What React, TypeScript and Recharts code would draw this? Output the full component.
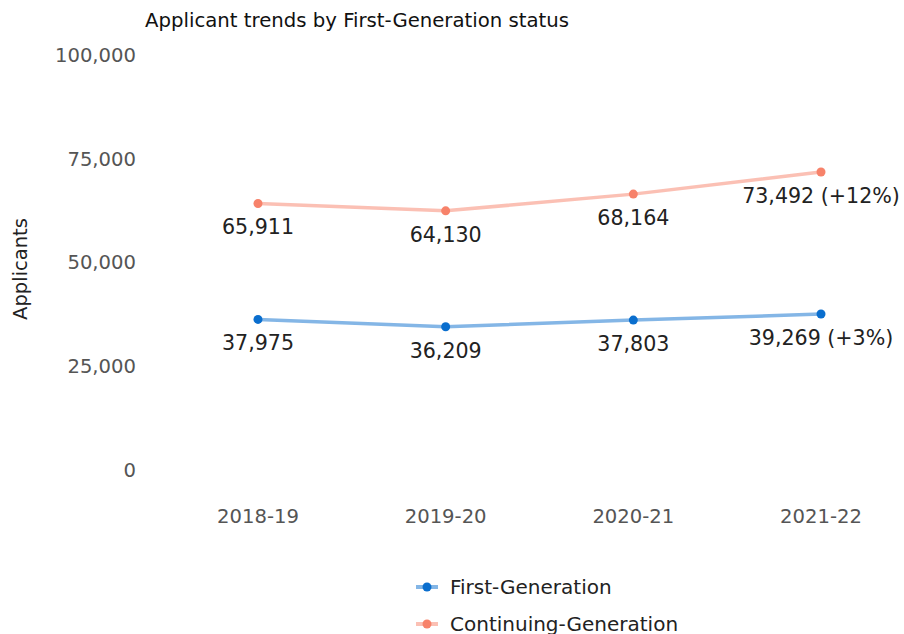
import React from "react";
import { LineChart, Line, XAxis, YAxis, Legend, LabelList } from "recharts";

const years = ["2018-19", "2019-20", "2020-21", "2021-22"];
const firstGen = [37975, 36209, 37803, 39269];
const continuingGen = [65911, 64130, 68164, 73492];
const firstGenChange = ["", "", "", "(+3%)"];
const continuingGenChange = ["", "", "", "(+12%)"];
const yTicks = [0, 25000, 50000, 75000, 100000];
const seriesNames = ["First-Generation", "Continuing-Generation"];

const FIRST_COLOR = "#0a6ece";
const CONT_COLOR = "#f7826a";
const FONT = "DejaVu Sans";

const data = years.map((y, i) => ({
  year: y,
  first: firstGen[i],
  continuing: continuingGen[i],
}));

const fmt = (v: number) => v.toLocaleString("en-US");

const YTick = (props: any) => {
  const { x, y, payload } = props;
  return (
    <text x={x} y={y - 7} dy="0.355em" textAnchor="end" fontSize={19.6} fill="#555" fontFamily={FONT}>
      {fmt(payload.value)}
    </text>
  );
};

const XTick = (props: any) => {
  const { x, y, payload } = props;
  return (
    <text x={x} y={y + 40} textAnchor="middle" fontSize={19.6} fill="#555" fontFamily={FONT}>
      {payload.value}
    </text>
  );
};

const makeLabel = (suffixes: string[]) => (props: any) => {
  const { x, y, value, index } = props;
  const s = suffixes[index];
  return (
    <text x={x} y={y + 31} textAnchor="middle" fontSize={20.6} fill="#222" fontFamily={FONT}>
      {fmt(Number(value)) + (s ? " " + s : "")}
    </text>
  );
};

const LegendContent = (props: any) => {
  const payload = [...(props.payload || [])].sort(
    (a: any, b: any) => seriesNames.indexOf(a.value) - seriesNames.indexOf(b.value)
  );
  return (
    <div style={{ fontFamily: FONT }}>
      {payload.map((p: any) => (
        <div key={p.value} style={{ height: 37, display: "flex", alignItems: "center" }}>
          <svg width={40} height={12} style={{ display: "block" }}>
            <line x1={6} y1={6} x2={28} y2={6} stroke={p.color} strokeOpacity={0.5} strokeWidth={4} />
            <circle cx={17} cy={6} r={4.5} fill={p.color} />
          </svg>
          <span style={{ fontSize: 20, color: "#222", lineHeight: "20px" }}>{p.value}</span>
        </div>
      ))}
    </div>
  );
};

const YLabel = () => (
  <text
    x={20}
    y={269}
    transform="rotate(-90, 20, 269)"
    textAnchor="middle"
    dominantBaseline="central"
    fontSize={19.5}
    fill="#222"
    fontFamily={FONT}
  >
    Applicants
  </text>
);

export default function App() {
  return (
    <div style={{ position: "absolute", left: 0, top: 0, width: 904, height: 634, background: "#fff", overflow: "hidden" }}>
      <div
        style={{
          position: "absolute",
          left: 145,
          top: 11,
          fontSize: 19.7,
          lineHeight: "20px",
          fontFamily: FONT,
          color: "#111",
          whiteSpace: "nowrap",
        }}
      >
        Applicant trends by First-Generation status
      </div>
      <LineChart width={904} height={634} data={data} margin={{ top: 62, right: 0, bottom: 47, left: 0 }}>
        <XAxis
          dataKey="year"
          axisLine={false}
          tickLine={false}
          tickMargin={0}
          tick={<XTick />}
          padding={{ left: 114, right: 83 }}
          height={30}
        />
        <YAxis
          width={144}
          domain={[0, 100000]}
          ticks={yTicks}
          axisLine={false}
          tickLine={false}
          tick={<YTick />}
          label={{ content: <YLabel /> }}
        />
        <Legend
          layout="vertical"
          verticalAlign="bottom"
          align="center"
          content={<LegendContent />}
          wrapperStyle={{ position: "absolute", top: 568, left: 410, width: 400, height: 80 }}
        />
        <Line
          name="First-Generation"
          dataKey="first"
          stroke={FIRST_COLOR}
          strokeOpacity={0.5}
          strokeWidth={3.5}
          dot={{ r: 4.5, fill: FIRST_COLOR, stroke: "none", fillOpacity: 1, strokeOpacity: 0 }}
          activeDot={false}
          isAnimationActive={false}
        >
          <LabelList dataKey="first" content={makeLabel(firstGenChange)} />
        </Line>
        <Line
          name="Continuing-Generation"
          dataKey="continuing"
          stroke={CONT_COLOR}
          strokeOpacity={0.5}
          strokeWidth={3.5}
          dot={{ r: 4.5, fill: CONT_COLOR, stroke: "none", fillOpacity: 1, strokeOpacity: 0 }}
          activeDot={false}
          isAnimationActive={false}
        >
          <LabelList dataKey="continuing" content={makeLabel(continuingGenChange)} />
        </Line>
      </LineChart>
    </div>
  );
}
